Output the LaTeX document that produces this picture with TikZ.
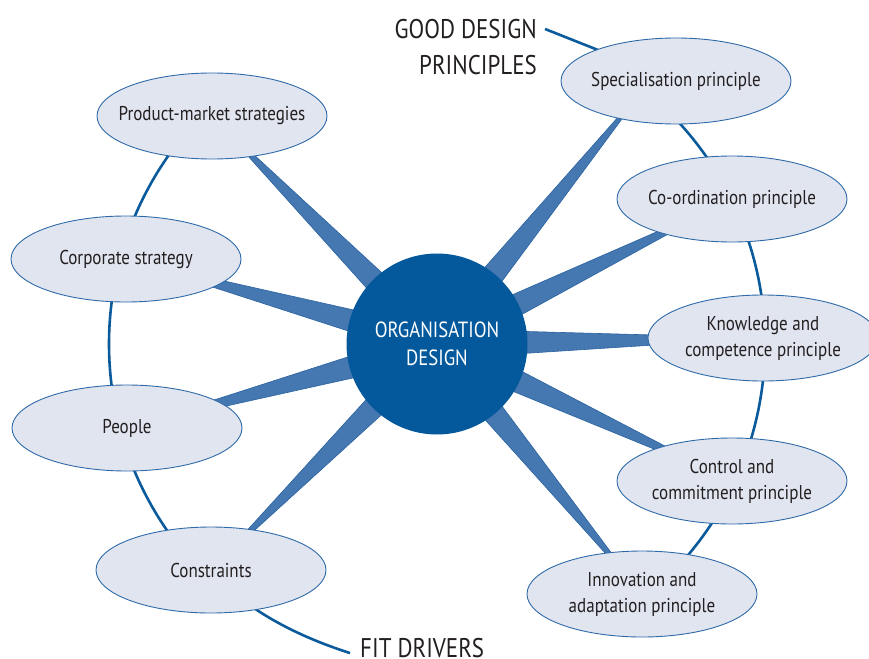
\documentclass[tikz,border=0pt]{standalone}
\usepackage{fontspec}
\setmainfont{PT Sans}[FakeStretch=0.85]
\usetikzlibrary{shapes.geometric}
\usetikzlibrary{calc,backgrounds}
\usetikzlibrary{positioning}
\definecolor{ringblue}{HTML}{0B5A9C}
\definecolor{spokeblue}{HTML}{4577B0}
\definecolor{spokeedge}{HTML}{2A63A2}
\definecolor{hubblue}{HTML}{03599C}
\definecolor{palefill}{HTML}{E1E5F0}
\definecolor{ovaledge}{HTML}{2E6AA8}
\definecolor{inkgrey}{HTML}{231F20}

\tikzset{
  oval/.style={ellipse, draw=ovaledge, line width=0.9pt, fill=palefill,
    minimum width=230pt, minimum height=86pt, inner xsep=-22pt, inner ysep=0pt,
    align=center, text=inkgrey, font=\fontsize{20}{26}\selectfont},
  hub/.style={circle, fill=hubblue, minimum size=181pt, inner sep=0pt,
    align=center, text=white, font=\fontsize{22}{28}\selectfont},
  ring/.style={draw=ringblue, line width=2.6pt},
  heading/.style={inner sep=0pt, text=inkgrey, font=\fontsize{27}{30}\selectfont},
  spokefill/.style={fill=spokeblue, draw=spokeedge, line width=0.6pt}
}
% tapered spoke from the hub to an ellipse
\newcommand{\spoke}[1]{%
  \filldraw[spokefill] ($(hub.center)!15pt!90:(#1.center)$) -- (#1.center)
    -- ($(hub.center)!15pt!-90:(#1.center)$) -- cycle;}

\begin{document}
\begin{tikzpicture}[x=1pt,y=-1pt]
\useasboundingbox (0,0) rectangle (869,658);

\node[hub] (hub) at (437,344) {ORGANISATION\\DESIGN};

% fit drivers
\node[oval] (pm) at (212,116) {Product-market strategies};
\node[oval] (corp) at (126,259) {Corporate strategy};
\node[oval] (people) at (127,428) {People};
\node[oval] (cons) at (211,570) {Constraints};

% design principles
\node[oval] (spec) at (676,81) {Specialisation principle};
\node[oval] (coord) at (732,199) {Co-ordination principle};
\node[oval] (know) at (763,338) {Knowledge and\\competence principle};
\node[oval] (ctrl) at (732,481) {Control and\\commitment principle};
\node[oval] (innov) at (642,594) {Innovation and\\adaptation principle};
\coordinate (specaim) at ($(spec.center)+(-26,0)$);

\node[heading, anchor=north east] (good) at (537,19) {GOOD DESIGN};
\node[heading, below=16pt of good.south east, anchor=north east] (princ) {PRINCIPLES};
\node[heading, anchor=south west] (fit) at (360,658) {FIT DRIVERS};

\begin{scope}[on background layer]
  \draw[ring] ([shift={(135:328pt)}]hub.center) arc[start angle=135, end angle=225, radius=328pt];
  \draw[ring] ([shift={(-45:328pt)}]hub.center) arc[start angle=-45, end angle=45, radius=328pt];
  \draw[ring] ([xshift=8pt]good.east) -- (spec.center);
  \draw[ring] ([xshift=-10pt,yshift=-5pt]fit.west) .. controls (290,634) and (240,605) .. (cons.center);
  \foreach \t in {pm,corp,people,cons,specaim,coord,know,ctrl,innov}
    {\spoke{\t}}
\end{scope}
\end{tikzpicture}
\end{document}
